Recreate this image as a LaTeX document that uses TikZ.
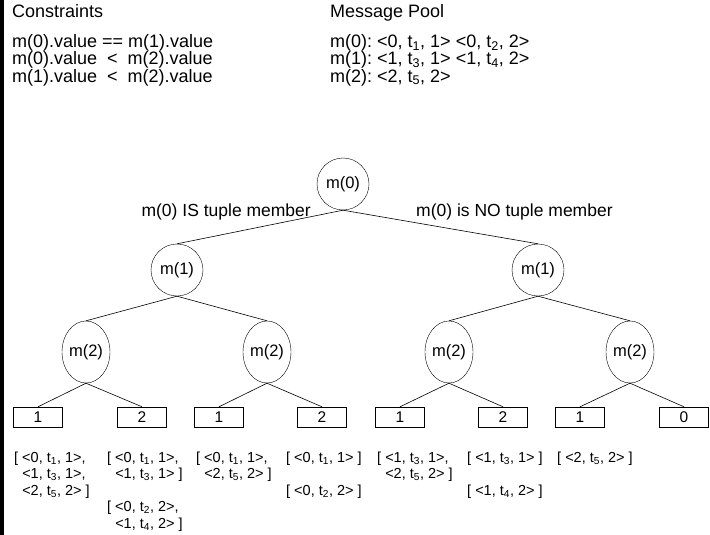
\documentclass[tikz,border=0pt]{standalone}
\usepackage{fontspec}
\setmainfont{Liberation Sans}
\usetikzlibrary{shapes.geometric}
\newcommand{\ts}[1]{t\textsubscript{#1}}
\newcommand{\ind}{\hphantom{[ }}
\begin{document}
\begin{tikzpicture}[x=1pt,y=-1pt,
  every node/.style={inner sep=0pt},
  hdr/.style={anchor=base west, font=\fontsize{18}{19}\selectfont},
  lbl/.style={font=\fontsize{17.5}{19}\selectfont},
  lf/.style={anchor=base west, font=\fontsize{14.5}{16}\selectfont},
  circ/.style={draw, circle, minimum size=52pt, font=\fontsize{16.5}{17}\selectfont},
  ell/.style={draw, ellipse, minimum width=48pt, minimum height=62pt, font=\fontsize{16.5}{17}\selectfont},
  leaf/.style={draw, rectangle, minimum width=49pt, minimum height=20pt, font=\fontsize{15.5}{17}\selectfont},
  conn/.style={line width=0.6pt}]
\useasboundingbox (0,0) rectangle (710,535);
\fill[black] (0,0) rectangle (4,535);
% header
\node[hdr] (ch) at (12,18) {Constraints};
\node[hdr] (c1) at (12,48) {m(0).value == m(1).value};
\node[hdr] (c2) at (12,65) {m(0).value\ \ <\ \ m(2).value};
\node[hdr] (c3) at (12,82) {m(1).value\ \ <\ \ m(2).value};
\node[hdr] (mp) at (330,18) {Message Pool};
\node[hdr] (p0) at (330,48) {m(0):};
\node[hdr] (p0t) at (377,48) {<0, \ts{1}, 1> <0, \ts{2}, 2>};
\node[hdr] (p1) at (330,65) {m(1):};
\node[hdr] (p1t) at (377,65) {<1, \ts{3}, 1> <1, \ts{4}, 2>};
\node[hdr] (p2) at (330,82) {m(2):};
\node[hdr] (p2t) at (377,82) {<2, \ts{5}, 2>};
% tree
\node[circ] (r) at (343,184) {m(0)};
\node[circ] (a) at (177,270) {m(1)};
\node[circ] (b) at (538,270) {m(1)};
\node[ell] (aa) at (86,352) {m(2)};
\node[ell] (ab) at (267,352) {m(2)};
\node[ell] (ba) at (449,352) {m(2)};
\node[ell] (bb) at (630,352) {m(2)};
\node[leaf] (l1) at (38,417) {1};
\node[leaf] (l2) at (142,417) {2};
\node[leaf] (l3) at (219,417) {1};
\node[leaf] (l4) at (322,417) {2};
\node[leaf] (l5) at (400,417) {1};
\node[leaf] (l6) at (503,417) {2};
\node[leaf] (l7) at (580,417) {1};
\node[leaf] (l8) at (684,417) {0};
\node[lbl, anchor=base east] (el) at (311,216) {m(0) IS tuple member};
\node[lbl, anchor=base west] (er) at (416,216) {m(0) is NO tuple member};
\draw[conn] (r.south) -- (a.north);
\draw[conn] (r.south) -- (b.north);
\draw[conn] (a.south) -- (aa.north);
\draw[conn] (a.south) -- (ab.north);
\draw[conn] (b.south) -- (ba.north);
\draw[conn] (b.south) -- (bb.north);
\draw[conn] (aa.south) -- (l1.north);
\draw[conn] (aa.south) -- (l2.north);
\draw[conn] (ab.south) -- (l3.north);
\draw[conn] (ab.south) -- (l4.north);
\draw[conn] (ba.south) -- (l5.north);
\draw[conn] (ba.south) -- (l6.north);
\draw[conn] (bb.south) -- (l7.north);
\draw[conn] (bb.south) -- (l8.north);
% leaf labels (rows at baselines 462, 478.5, 495, 511.5, 528)
\node[lf] (t1a) at (14,462) {[ <0, \ts{1}, 1>,};
\node[lf] (t1b) at (14,478.5) {\ind<1, \ts{3}, 1>,};
\node[lf] (t1c) at (14,495) {\ind<2, \ts{5}, 2> ]};
\node[lf] (t2a) at (107,462) {[ <0, \ts{1}, 1>,};
\node[lf] (t2b) at (107,478.5) {\ind<1, \ts{3}, 1> ]};
\node[lf] (t2c) at (107,511.5) {[ <0, \ts{2}, 2>,};
\node[lf] (t2d) at (107,528) {\ind<1, \ts{4}, 2> ]};
\node[lf] (t3a) at (196,462) {[ <0, \ts{1}, 1>,};
\node[lf] (t3b) at (196,478.5) {\ind<2, \ts{5}, 2> ]};
\node[lf] (t4a) at (286,462) {[ <0, \ts{1}, 1> ]};
\node[lf] (t4b) at (286,495) {[ <0, \ts{2}, 2> ]};
\node[lf] (t5a) at (377,462) {[ <1, \ts{3}, 1>,};
\node[lf] (t5b) at (377,478.5) {\ind<2, \ts{5}, 2> ]};
\node[lf] (t6a) at (467,462) {[ <1, \ts{3}, 1> ]};
\node[lf] (t6b) at (467,495) {[ <1, \ts{4}, 2> ]};
\node[lf] (t7a) at (557,462) {[ <2, \ts{5}, 2> ]};
\end{tikzpicture}
\end{document}
